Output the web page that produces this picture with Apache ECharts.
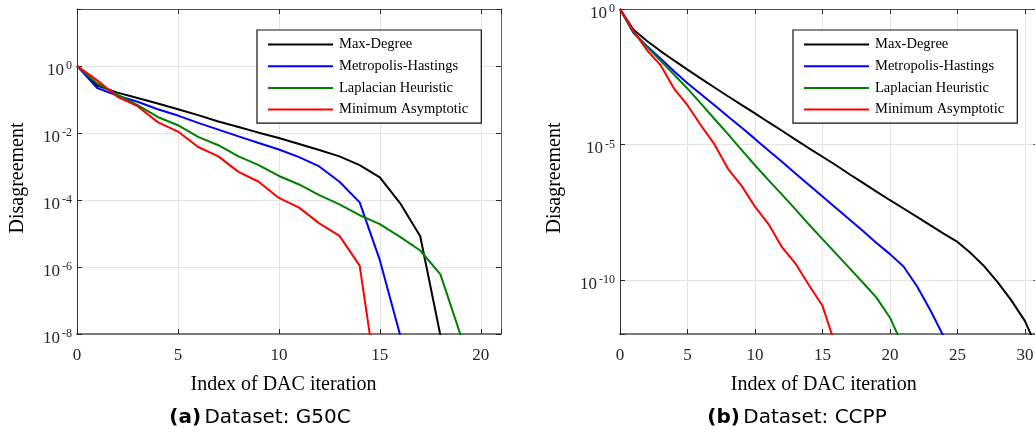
<!DOCTYPE html>
<html>
<head>
<meta charset="utf-8">
<script src="https://cdn.jsdelivr.net/npm/echarts@6/dist/echarts.min.js"></script>
<style>
  html, body { margin: 0; padding: 0; background: #ffffff; }
  #chart { width: 1035px; height: 434px; }
</style>
</head>
<body>
<div id="chart"></div>
<script>
// Weight-design methods compared in both panels
const seriesNames = ['Max-Degree', 'Metropolis-Hastings', 'Laplacian Heuristic', 'Minimum Asymptotic'];

// Disagreement per DAC iteration (index = iteration), dataset G50C
const g50cMaxDegree = [1, 0.26, 0.16, 0.11, 0.076, 0.051, 0.034, 0.022, 0.015, 0.0102, 0.0071, 0.0047,
  0.0031, 0.0020, 0.0011, 4.7e-4, 8.1e-5, 8.3e-6, 9e-9];
const g50cMetropolis = [1, 0.22, 0.13, 0.085, 0.051, 0.033, 0.020, 0.0126, 0.0079, 0.0050, 0.0032,
  0.0019, 0.0010, 3.5e-4, 8.5e-5, 1.6e-6, 9.5e-9];
const g50cLaplacian = [1, 0.30, 0.14, 0.068, 0.030, 0.017, 0.0076, 0.0043, 0.0020, 0.0011, 5.2e-4,
  2.9e-4, 1.4e-4, 7.4e-5, 3.5e-5, 1.9e-5, 7.9e-6, 3.1e-6, 6.0e-7, 9.3e-9];
const g50cMinAsymptotic = [1, 0.37, 0.12, 0.063, 0.021, 0.011, 0.0038, 0.0020, 6.9e-4, 3.5e-4, 1.15e-4,
  5.9e-5, 2.0e-5, 8.5e-6, 1.1e-6, 9e-11];

// Disagreement per DAC iteration (index = iteration), dataset CCPP
const ccppMaxDegree = [1, 0.17, 0.066, 0.028, 0.0126, 0.0058, 0.0027, 0.00126, 6.0e-4, 2.9e-4, 1.4e-4,
  6.6e-5, 3.2e-5, 1.5e-5, 7.2e-6, 3.5e-6, 1.7e-6, 7.9e-7, 3.8e-7, 1.8e-7, 8.7e-8, 4.3e-8, 2.1e-8,
  1.02e-8, 5.0e-9, 2.5e-9, 9.5e-10, 3.1e-10, 7.9e-11, 1.7e-11, 3.0e-12, 2.2e-13];
const ccppMetropolis = [1, 0.13, 0.042, 0.015, 0.0050, 0.0018, 7.1e-4, 2.8e-4, 1.07e-4, 4.2e-5, 1.6e-5,
  6.0e-6, 2.3e-6, 8.5e-7, 3.2e-7, 1.2e-7, 4.5e-8, 1.7e-8, 6.3e-9, 2.3e-9, 8.9e-10, 3.1e-10, 5.8e-11,
  7.4e-12, 7.6e-13];
const ccppLaplacian = [1, 0.14, 0.040, 0.0126, 0.0038, 0.00115, 3.2e-4, 8.7e-5, 2.4e-5, 6.3e-6, 1.7e-6,
  4.8e-7, 1.4e-7, 4.0e-8, 1.1e-8, 3.2e-9, 9.3e-10, 2.7e-10, 7.8e-11, 2.2e-11, 4.0e-12, 3.2e-13];
const ccppMinAsymptotic = [1, 0.155, 0.030, 0.0085, 0.00115, 2.8e-4, 5.0e-5, 1.0e-5, 1.26e-6, 3.0e-7,
  5.0e-8, 1.15e-8, 1.6e-9, 4.0e-10, 6.3e-11, 1.1e-11, 3.2e-13];

// Axis ranges and tick spacing
const xTickStep = 5;
const g50cXMax = 21;
const ccppXMax = 31;
const g50cYMin = 1e-8, g50cYMax = 50, g50cDecadeStep = 2;
const ccppYMin = 1e-12, ccppYMax = 1, ccppDecadeStep = 5;

const captions = [
  { tag: '(a)', text: 'Dataset: G50C' },
  { tag: '(b)', text: 'Dataset: CCPP' }
];

const lineColors = ['#000000', '#0000ff', '#008000', '#ff0000'];
const SERIF = '"Liberation Serif", "DejaVu Serif", serif';
const SANS = '"DejaVu Sans", "Open Sans", sans-serif';
const AXIS_INK = '#262626';
const GRID_INK = '#e4e4e4';

// Decade labels written as 10 with a raised exponent
function powerLabel(step) {
  return function (value) {
    const e = Math.log10(value);
    const r = Math.round(e);
    if (Math.abs(e - r) > 1e-6 || r % step !== 0) return '';
    return '{b|10}{e|' + r + '}';
  };
}

const powerRich = {
  b: { fontFamily: SERIF, fontSize: 17, color: AXIS_INK, verticalAlign: 'bottom', lineHeight: 26 },
  e: { fontFamily: SERIF, fontSize: 12, color: AXIS_INK, verticalAlign: 'top', lineHeight: 12, padding: [7, 0, 0, 2] }
};

function xAxes(gridIndex, max) {
  return [
    {
      type: 'value', gridIndex, min: 0, max, interval: xTickStep, position: 'bottom',
      name: 'Index of DAC iteration', nameLocation: 'middle', nameGap: 41,
      nameTextStyle: { fontFamily: SERIF, fontSize: 20, color: '#000', padding: [0, 11, 0, 0] },
      axisLine: { show: true, onZero: false, lineStyle: { color: '#7a7a7a', width: 2 } },
      axisTick: { show: true, inside: true, length: 5, lineStyle: { color: AXIS_INK } },
      axisLabel: {
        margin: 13, fontFamily: SERIF, fontSize: 17, color: AXIS_INK,
        formatter: v => (v % xTickStep === 0 ? String(v) : '')
      },
      splitLine: { show: true, lineStyle: { color: GRID_INK, width: 1 } }
    },
    {
      type: 'value', gridIndex, min: 0, max, interval: xTickStep, position: 'top',
      axisLine: { show: true, onZero: false, lineStyle: { color: '#555', width: 1 } },
      axisTick: { show: true, inside: true, length: 5, lineStyle: { color: AXIS_INK } },
      axisLabel: { show: false },
      splitLine: { show: false }
    }
  ];
}

function yAxes(gridIndex, min, max, step, nameGap) {
  const base = Math.pow(10, step);
  return [
    {
      type: 'log', logBase: base, gridIndex, min, max, position: 'left',
      name: 'Disagreement', nameLocation: 'middle', nameGap,
      nameTextStyle: { fontFamily: SERIF, fontSize: 20, color: '#000', padding: [0, 13, 0, 0] },
      axisLine: { show: true, onZero: false, lineStyle: { color: '#333', width: 1 } },
      axisTick: { show: true, inside: true, length: 5, lineStyle: { color: AXIS_INK } },
      axisLabel: { margin: 5, formatter: powerLabel(step), rich: powerRich },
      splitLine: { show: true, lineStyle: { color: GRID_INK, width: 1 } }
    },
    {
      type: 'log', logBase: base, gridIndex, min, max, position: 'right',
      axisLine: { show: true, onZero: false, lineStyle: { color: '#666', width: 1 } },
      axisTick: { show: true, inside: true, length: 5, lineStyle: { color: AXIS_INK } },
      axisLabel: { show: false },
      splitLine: { show: false }
    }
  ];
}

function toPoints(values) {
  return values.map((v, i) => [i, v]);
}

function lineSeries(name, values, axisIndex, color) {
  return {
    type: 'line', name, data: toPoints(values),
    xAxisIndex: axisIndex, yAxisIndex: axisIndex,
    showSymbol: false, symbol: 'none', clip: true,
    lineStyle: { color, width: 2 }, itemStyle: { color },
    emphasis: { disabled: true }, animation: false, z: 3
  };
}

function legendAt(left) {
  return {
    left, top: 30, orient: 'vertical',
    data: seriesNames, icon: 'rect', itemWidth: 65, itemHeight: 2, itemGap: 6.7,
    backgroundColor: '#ffffff', borderColor: '#111', borderWidth: 1.2,
    padding: [7, 13, 6, 11],
    textStyle: { fontFamily: SERIF, fontSize: 14.5, color: '#000', lineHeight: 14, padding: [0, 0, 0, 1] },
    selectedMode: false, z: 10
  };
}

function captionText(cx, c) {
  return {
    type: 'text', x: cx, y: 418, z: 10,
    style: {
      text: '{t|' + c.tag + '} {n|' + c.text + '}',
      align: 'center', verticalAlign: 'middle',
      rich: {
        t: { fontFamily: SANS, fontSize: 20, fontWeight: 'bold', fill: '#000' },
        n: { fontFamily: SANS, fontSize: 20, fill: '#000' }
      }
    }
  };
}

const g50cSeries = [g50cMaxDegree, g50cMetropolis, g50cLaplacian, g50cMinAsymptotic];
const ccppSeries = [ccppMaxDegree, ccppMetropolis, ccppLaplacian, ccppMinAsymptotic];

const option = {
  backgroundColor: '#ffffff',
  animation: false,
  grid: [
    { left: 77, top: 9, width: 424, height: 325, outerBoundsMode: 'none' },
    { left: 620, top: 9, width: 418.5, height: 325, outerBoundsMode: 'none' }
  ],
  xAxis: [...xAxes(0, g50cXMax), ...xAxes(1, ccppXMax)],
  yAxis: [...yAxes(0, g50cYMin, g50cYMax, g50cDecadeStep, 49),
          ...yAxes(1, ccppYMin, ccppYMax, ccppDecadeStep, 55)],
  legend: [legendAt(257), legendAt(793)],
  series: [
    ...g50cSeries.map((vals, k) => lineSeries(seriesNames[k], vals, 0, lineColors[k])),
    ...ccppSeries.map((vals, k) => lineSeries(seriesNames[k], vals, 2, lineColors[k]))
  ],
  graphic: [captionText(260, captions[0]), captionText(797, captions[1])]
};

const chart = echarts.init(document.getElementById('chart'), null, { renderer: 'canvas' });
chart.setOption(option);
</script>
</body>
</html>
